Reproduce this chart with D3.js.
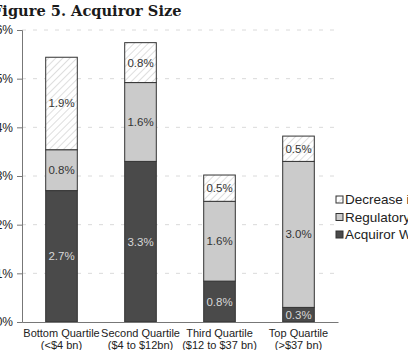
<!DOCTYPE html>
<html>
<head>
<meta charset="utf-8">
<script src="https://cdn.jsdelivr.net/npm/d3@7"></script>
<style>
  body { margin: 0; background: #fff; }
  svg { display: block; }
</style>
</head>
<body>
<svg id="chart"></svg>
<script>
/* data */
var categories = ["Bottom Quartile", "Second Quartile", "Third Quartile", "Top Quartile"];
var subLabels = ["(<$4 bn)", "($4 to $12bn)", "($12 to $37 bn)", "(>$37 bn)"];
var seriesNames = ["Decrease in Competition", "Regulatory Risk", "Acquiror Wealth"];
var acquirorWealth = [2.7, 3.3, 0.84, 0.3];
var regulatory = [0.84, 1.62, 1.64, 3.0];
var decrease = [1.9, 0.82, 0.54, 0.52];
var yTicks = [0, 1, 2, 3, 4, 5, 6];

let width = 408;
let height = 350;
let margin = { top: 30, right: 70, bottom: 28, left: 22 };

let svg = d3.select("#chart").attr("width", width).attr("height", height);

let defs = svg.append("defs");
let hatch = defs.append("pattern")
    .attr("id", "hatch")
    .attr("patternUnits", "userSpaceOnUse")
    .attr("width", 5).attr("height", 5)
    .attr("patternTransform", "rotate(45)");
hatch.append("rect").attr("width", 5).attr("height", 5).attr("fill", "#fff");
hatch.append("line")
    .attr("x1", 0).attr("y1", 0).attr("x2", 0).attr("y2", 5)
    .attr("stroke", "#c4c4c4").attr("stroke-width", 1.1);

let fills = { decrease: "url(#hatch)", regulatory: "#cbcbcb", acquiror: "#4a4a4a" };
let textCol = { decrease: "#333", regulatory: "#333", acquiror: "#d8d8d8" };

// title (cropped at left like the original)
svg.append("text")
    .attr("x", -8).attr("y", 16)
    .style("font-family", "DejaVu Serif")
    .style("font-weight", "bold")
    .style("font-size", "14.6px")
    .style("fill", "#1a1a1a")
    .text("Figure 5. Acquiror Size");

let plotW = 338 - margin.left;
let plotBottom = 322;
let plotTop = 30;

let xScale = d3.scaleBand().domain(categories).range([margin.left, margin.left + plotW]).paddingInner(0.6).paddingOuter(0.3);
let yScale = d3.scaleLinear().domain([0, 6]).range([plotBottom, plotTop]);

// faint dashed gridlines
svg.append("g").selectAll("line")
    .data(yTicks.slice(1))
    .join("line")
    .attr("x1", margin.left).attr("x2", margin.left + plotW)
    .attr("y1", d => yScale(d)).attr("y2", d => yScale(d))
    .attr("stroke", "#dadada")
    .attr("stroke-width", 1)
    .attr("stroke-dasharray", "4,7");

// stacked bars
let stackData = categories.map((c, i) => ({
    cat: c,
    acquiror: acquirorWealth[i],
    regulatory: regulatory[i],
    decrease: decrease[i]
}));
let stack = d3.stack().keys(["acquiror", "regulatory", "decrease"])(stackData);

let barG = svg.append("g");
stack.forEach(function(layer){
    let key = layer.key;
    let g = barG.append("g");
    g.selectAll("rect")
        .data(layer)
        .join("rect")
        .attr("x", d => xScale(d.data.cat))
        .attr("width", xScale.bandwidth())
        .attr("y", d => yScale(d[1]))
        .attr("height", d => yScale(d[0]) - yScale(d[1]))
        .attr("fill", fills[key])
        .attr("stroke", "#333")
        .attr("stroke-width", 1);
    g.selectAll("text")
        .data(layer)
        .join("text")
        .attr("x", d => xScale(d.data.cat) + xScale.bandwidth() / 2)
        .attr("y", d => (yScale(d[0]) + yScale(d[1])) / 2 + 4)
        .attr("text-anchor", "middle")
        .style("font-family", "Liberation Sans, Arial")
        .style("font-size", "11.5px")
        .style("fill", textCol[key])
        .text(d => d3.format(".1f")(d[1] - d[0]) + "%");
});

// y axis
let yAxis = svg.append("g")
    .attr("transform", `translate(${margin.left},0)`)
    .call(d3.axisLeft(yScale).tickValues(yTicks).tickFormat(d => d + "%").tickSize(5).tickPadding(4));
yAxis.select(".domain").attr("stroke", "#777");
yAxis.selectAll(".tick line").attr("stroke", "#777");
yAxis.selectAll("text")
    .style("font-family", "Liberation Sans, Arial")
    .style("font-size", "12px")
    .style("fill", "#222");

// x axis
let xAxis = svg.append("g")
    .attr("transform", `translate(0,${plotBottom})`)
    .call(d3.axisBottom(xScale).tickSize(0).tickPadding(7));
xAxis.select(".domain").attr("stroke", "#777");
xAxis.selectAll(".tick text")
    .style("font-family", "Liberation Sans, Arial")
    .style("font-size", "11px")
    .style("fill", "#222")
    .each(function(d, i){
        let t = d3.select(this);
        t.text(null);
        t.append("tspan").attr("x", 0).attr("dy", "0.71em").text(d);
        t.append("tspan").attr("x", 0).attr("dy", "1.1em").text(subLabels[i]);
    });

// legend
let legend = svg.append("g").attr("transform", "translate(336,204)");
let legendFills = [fills.decrease, fills.regulatory, fills.acquiror];
seriesNames.forEach(function(name, i){
    let row = legend.append("g").attr("transform", `translate(0,${i * 17.5})`);
    row.append("rect")
        .attr("x", 0).attr("y", -8)
        .attr("width", 7).attr("height", 7)
        .attr("fill", legendFills[i])
        .attr("stroke", "#333");
    row.append("text")
        .attr("x", 9).attr("y", 0)
        .style("font-family", "Liberation Sans, Arial")
        .style("font-size", "13.5px")
        .style("fill", "#222")
        .text(name);
});
</script>
</body>
</html>
